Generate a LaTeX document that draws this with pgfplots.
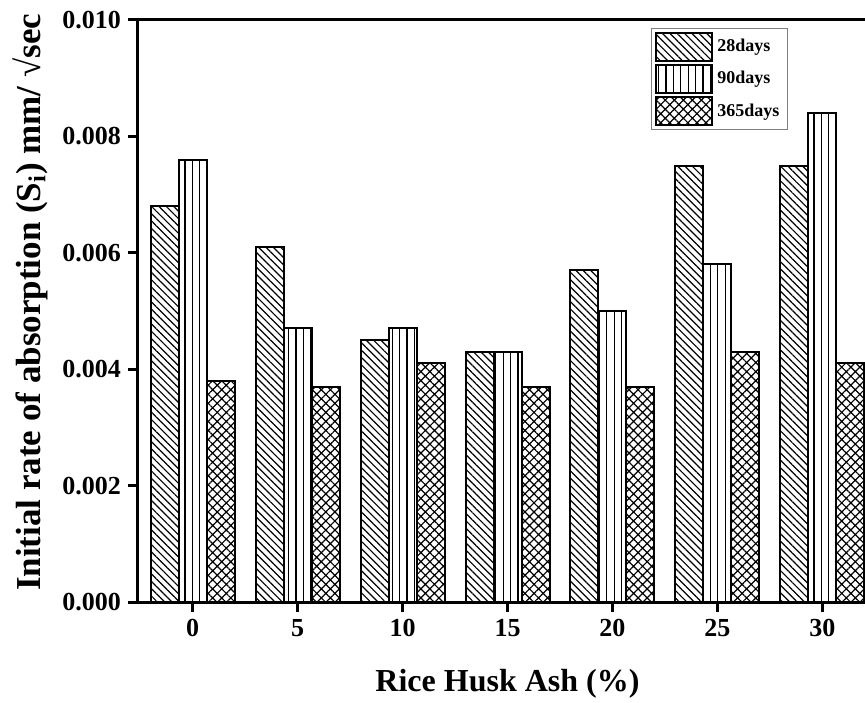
\documentclass[border=0pt]{standalone}
\usepackage{fontspec}
\setmainfont{Liberation Serif}
\usepackage{pgfplots}
\pgfplotsset{compat=1.18}
\usetikzlibrary{patterns.meta}
\pgfplotsset{mylegend/.style={legend image code/.code={\draw[##1] (0pt,-7pt) rectangle (28pt,7pt);}},
  tk/.style={black, line width=1.5pt, forget plot, no marks}}

\begin{document}
\begin{tikzpicture}
\begin{axis}[
  at={(0,0)}, anchor=south west,
  scale only axis, width=369.5pt, height=291pt,
  xmin=-2.6, xmax=32.6, ymin=0, ymax=0.010,
  xtick={0,5,10,15,20,25,30},
  ytick={0,0.002,0.004,0.006,0.008,0.010},
  scaled y ticks=false,
  yticklabel style={/pgf/number format/.cd, fixed, fixed zerofill, precision=3, assume math mode=true},
  xticklabel style={/pgf/number format/assume math mode=true},
  ticklabel style={font=\bfseries\fontsize{13}{15}\selectfont},
  axis line style={line width=1.5pt},
  tick style={line width=1.5pt},
  major tick length=5pt,
  tick align=outside,
  tick pos=left,
  clip=false,
  xlabel={Rice Husk Ash (\%)},
  ylabel={Initial rate of absorption (S\textsubscript{i}) mm/ √sec},
  xlabel style={font=\bfseries\fontsize{16}{18}\selectfont, at={(axis description cs:0.5,0)}, yshift=-41pt, anchor=center},
  ylabel style={font=\bfseries\fontsize{17.5}{19}\selectfont, at={(axis description cs:-0.146,0.515)}, anchor=center},
  legend style={at={(rel axis cs:0.694,0.986)}, anchor=north west,
    draw=gray, line width=0.5pt, font=\bfseries\fontsize{9}{10}\selectfont,
    row sep=1.2pt, inner xsep=2pt, inner ysep=1.5pt},
  legend cell align=left,
]
\addplot[ybar, bar width=14pt, bar shift=-14pt, draw=black, line width=1pt,
  pattern={Lines[angle=-45, distance=2.6pt, line width=0.6pt]}, mylegend]
  coordinates {(0,0.0068) (5,0.0061) (10,0.0045) (15,0.0043) (20,0.0057) (25,0.0075) (30,0.0075)};
\addlegendentry{28days}
\addplot[ybar, bar width=14pt, bar shift=0pt, draw=black, line width=1pt,
  pattern={Lines[angle=90, distance=3.7pt, line width=0.6pt]}, mylegend]
  coordinates {(0,0.0076) (5,0.0047) (10,0.0047) (15,0.0043) (20,0.0050) (25,0.0058) (30,0.0084)};
\addlegendentry{90days}
\addplot[ybar, bar width=14pt, bar shift=14pt, draw=black, line width=1pt,
  pattern={Hatch[angle=45, distance=3.2pt, line width=0.6pt]}, mylegend]
  coordinates {(0,0.0038) (5,0.0037) (10,0.0041) (15,0.0037) (20,0.0037) (25,0.0043) (30,0.0041)};
\addlegendentry{365days}
% tick marks
\addplot[tk, ycomb] coordinates {(0,-0.000172) (5,-0.000172) (10,-0.000172) (15,-0.000172) (20,-0.000172) (25,-0.000172) (30,-0.000172)};
\addplot[tk] coordinates {(-2.6,0) (-3.08,0)};
\addplot[tk] coordinates {(-2.6,0.002) (-3.08,0.002)};
\addplot[tk] coordinates {(-2.6,0.004) (-3.08,0.004)};
\addplot[tk] coordinates {(-2.6,0.006) (-3.08,0.006)};
\addplot[tk] coordinates {(-2.6,0.008) (-3.08,0.008)};
\addplot[tk] coordinates {(-2.6,0.010) (-3.08,0.010)};
\end{axis}
\pgfresetboundingbox
\useasboundingbox (-69pt,-50pt) rectangle (363.5pt,301pt);
\end{tikzpicture}
\end{document}
